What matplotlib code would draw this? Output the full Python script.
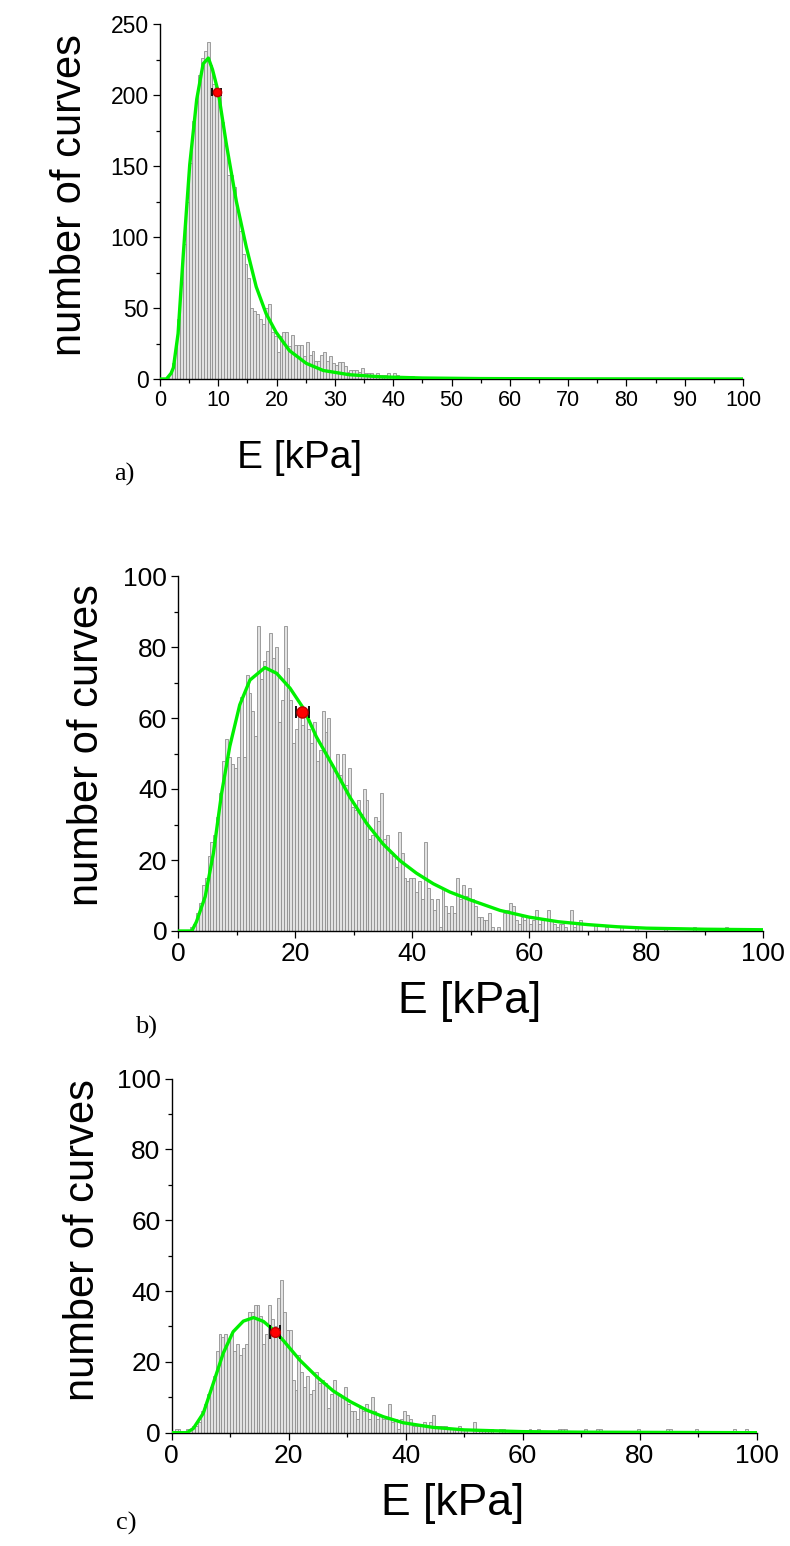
import matplotlib
matplotlib.use('Agg')
import matplotlib.pyplot as plt
import numpy as np
from matplotlib.ticker import MultipleLocator

plt.rcParams['font.family'] = ['Liberation Sans', 'DejaVu Sans']

W, H = 790, 1546

# histogram bins, 0.5 kPa wide, 0..100 kPa
bin_width = 0.5
bin_left = np.arange(0, 100, bin_width)

# a) counts per bin, one row = 10 kPa
counts_a = [
    0, 0, 1, 4, 11, 25, 42, 68, 95, 125, 152, 182, 196, 214, 226, 231, 237, 221, 208, 204,
    199, 181, 165, 144, 144, 135, 118, 104, 88, 81, 71, 50, 48, 46, 42, 39, 50, 53, 33, 30,
    19, 30, 33, 33, 23, 31, 24, 24, 24, 16, 26, 17, 20, 13, 13, 17, 19, 13, 16, 11,
    10, 12, 12, 9, 5, 6, 6, 6, 5, 8, 4, 4, 4, 3, 4, 3, 3, 3, 4, 2,
    4, 3, 2, 2, 1, 1, 2, 0, 1, 1, 0, 1, 1, 0, 1, 0, 1, 0, 0, 1,
    0, 0, 1, 0, 0, 0, 1, 0, 0, 0, 0, 0, 0, 1, 1, 0, 0, 0, 0, 0,
    0, 0, 0, 0, 0, 0, 0, 0, 0, 0, 1, 0, 0, 0, 0, 0, 0, 0, 0, 0,
    0, 0, 0, 0, 1, 0, 0, 0, 0, 0, 0, 0, 0, 0, 0, 0, 0, 0, 0, 0,
    0, 0, 0, 0, 0, 0, 0, 0, 0, 0, 0, 0, 1, 0, 0, 0, 0, 0, 0, 0,
    0, 0, 0, 0, 0, 0, 0, 0, 0, 0, 1, 0, 0, 0, 0, 0, 0, 0, 0, 0,
]

# b)
counts_b = [
    0, 0, 0, 0, 1, 2, 5, 8, 13, 15, 21, 25, 27, 32, 39, 48, 54, 49, 47, 46,
    49, 66, 49, 72, 67, 62, 55, 86, 71, 76, 79, 84, 77, 80, 59, 65, 86, 74, 65, 53,
    57, 62, 58, 61, 57, 53, 59, 48, 51, 62, 56, 60, 47, 45, 50, 44, 50, 41, 46, 35,
    34, 37, 33, 40, 37, 26, 27, 32, 31, 39, 26, 27, 22, 21, 18, 28, 22, 15, 14, 15,
    15, 11, 14, 9, 25, 12, 9, 6, 9, 1, 12, 7, 5, 7, 5, 15, 9, 13, 10, 12,
    9, 7, 4, 4, 3, 3, 5, 1, 0, 1, 0, 5, 6, 8, 7, 3, 2, 4, 3, 4,
    2, 3, 6, 2, 3, 0, 6, 3, 2, 1, 2, 2, 1, 0, 6, 1, 2, 3, 0, 0,
    0, 0, 2, 0, 0, 0, 1, 0, 0, 0, 0, 1, 0, 0, 0, 0, 1, 0, 0, 0,
    0, 0, 0, 0, 0, 0, 1, 0, 0, 0, 0, 0, 0, 0, 0, 0, 1, 0, 0, 0,
    0, 0, 0, 0, 0, 0, 0, 1, 0, 0, 0, 0, 0, 0, 0, 0, 0, 0, 0, 0,
]

# c)
counts_c = [
    0, 1, 1, 0, 0, 1, 1, 2, 2, 3, 6, 8, 11, 13, 16, 23, 28, 27, 28, 26,
    28, 23, 25, 22, 24, 25, 34, 34, 36, 36, 33, 25, 28, 36, 32, 30, 38, 43, 34, 29,
    29, 15, 12, 22, 17, 13, 16, 11, 12, 17, 14, 15, 14, 7, 11, 15, 11, 11, 10, 13,
    8, 6, 6, 4, 7, 6, 8, 4, 10, 6, 4, 5, 4, 4, 8, 3, 4, 1, 4, 6,
    5, 4, 2, 2, 2, 2, 3, 2, 3, 5, 2, 2, 2, 2, 1, 1, 1, 1, 2, 1,
    1, 0, 0, 3, 0, 1, 1, 1, 1, 1, 0, 0, 1, 1, 0, 0, 0, 0, 0, 0,
    0, 0, 1, 0, 0, 1, 0, 0, 0, 0, 0, 0, 1, 1, 1, 0, 0, 0, 0, 0,
    0, 1, 0, 0, 0, 1, 1, 0, 0, 0, 0, 0, 0, 0, 0, 0, 0, 0, 0, 1,
    0, 0, 0, 0, 0, 0, 0, 0, 0, 1, 1, 0, 0, 0, 0, 0, 0, 0, 0, 1,
    0, 0, 0, 0, 0, 0, 0, 0, 0, 0, 0, 0, 1, 0, 0, 0, 1, 0, 0, 0,
]

# fitted distributions
fit_a_x = [0, 1.1, 1.9, 2.3, 3.1, 4.0, 5.1, 6.3, 7.4, 8.3, 9.0, 10.0, 11.4, 13.1, 14.8,
           16.5, 18.2, 19.9, 22.2, 25.1, 28.0, 32.5, 38, 45, 55, 70, 100]
fit_a_y = [0, 0, 4, 8, 32, 88, 151, 197, 222, 226, 218, 202, 165, 125, 93,
           65, 46, 33, 20, 11, 6, 3, 1.5, 0.7, 0.3, 0.1, 0]

fit_b_x = [0, 2.3, 3.1, 4.6, 6.0, 7.4, 8.8, 10.5, 12.25, 14.8, 16.8, 19.1, 21.4, 23.6,
           26.5, 29.3, 32.2, 35, 37.9, 40.7, 43.6, 46.4, 50, 55, 60, 65, 70, 75, 80, 90, 100]
fit_b_y = [0, 0, 2.6, 9.7, 21.9, 38.8, 52, 63.7, 70.7, 74.2, 72.6, 68.4, 62.7, 54.7,
           46.3, 37.8, 30.3, 24.5, 19.8, 16.3, 13.3, 11, 8.7, 5.8, 3.9, 2.6, 1.8, 1.2, 0.8, 0.5, 0.35]

fit_c_x = [0, 2.6, 3.7, 5.4, 7.1, 8.8, 10.5, 12.25, 14.0, 15.7, 17.4, 19.1, 21.9, 24.8,
           27.6, 30.5, 33.3, 36.2, 39.6, 44.7, 50, 60, 70, 100]
fit_c_y = [0, 0, 1.2, 5.5, 13.9, 22.4, 28.5, 31.5, 32.5, 31.4, 29, 26, 20.5, 15.8,
           11.8, 8.8, 6.4, 4.5, 2.8, 1.5, 0.8, 0.3, 0.15, 0]

# mean E with error (red point)
mean_x = [9.7, 21.2, 17.7]
mean_y = [202, 61.8, 28.5]
mean_xerr = [0.8, 1.15, 0.85]

panel_labels = ['a)', 'b)', 'c)']


def px(x, y):
    return x / W, 1 - y / H


def draw_panel(box, counts, fit_x, fit_y, i, ymax, xmaj, xmin, ymaj, ymin,
               ytick_size, xtick_size, xl_size,
               ylab_xy, xlab_xy, letter_xy, capsize, msize):
    left, top, right, bottom = box
    x0, y0 = px(left, bottom)
    x1, y1 = px(right, top)
    ax = fig.add_axes([x0, y0, x1 - x0, y1 - y0])

    ax.bar(bin_left, counts, width=bin_width, align='edge',
           color='#e2e2e2', edgecolor='#8e8e8e', linewidth=0.6, zorder=1)
    ax.plot(fit_x, fit_y, color='#00f000', lw=2.4, zorder=3)
    ax.errorbar(mean_x[i], mean_y[i], xerr=mean_xerr[i], fmt='o', color='black',
                ecolor='black', elinewidth=1.8, capsize=capsize, capthick=1.3,
                markerfacecolor='red', markeredgecolor='#c00000', markersize=msize, zorder=4)

    ax.set_xlim(0, 100)
    ax.set_ylim(0, ymax)
    ax.spines['right'].set_visible(False)
    ax.spines['top'].set_visible(False)
    for s in ('left', 'bottom'):
        ax.spines[s].set_linewidth(1.0)
    ax.xaxis.set_major_locator(MultipleLocator(xmaj))
    ax.xaxis.set_minor_locator(MultipleLocator(xmin))
    ax.yaxis.set_major_locator(MultipleLocator(ymaj))
    ax.yaxis.set_minor_locator(MultipleLocator(ymin))
    ax.tick_params(which='major', length=5, width=0.9, pad=3)
    ax.tick_params(which='minor', length=3, width=0.9)
    ax.tick_params(axis='y', labelsize=ytick_size)
    ax.tick_params(axis='x', labelsize=xtick_size)

    ax.set_ylabel('number of curves', fontsize=30, va='center', ha='center')
    ax.yaxis.set_label_coords(*px(*ylab_xy), transform=fig.transFigure)
    ax.set_xlabel('E [kPa]', fontsize=xl_size, va='center', ha='center')
    ax.xaxis.set_label_coords(*px(*xlab_xy), transform=fig.transFigure)

    fig.text(*px(*letter_xy), panel_labels[i], fontsize=19, family='Liberation Serif',
             ha='center', va='center')
    return ax


fig = plt.figure(figsize=(W / 100, H / 100), dpi=100)

draw_panel((160, 24, 743, 379), counts_a, fit_a_x, fit_a_y, 0, 250, 10, 5, 50, 25,
           16.5, 15.5, 28,
           (70, 195), (300, 458), (124, 474), 3, 6)
draw_panel((178.3, 576, 763.3, 931), counts_b, fit_b_x, fit_b_y, 1, 100, 20, 10, 20, 10,
           19, 19, 32,
           (87, 745), (470, 1002), (146, 1027), 4, 8)
draw_panel((171.7, 1078.5, 756.7, 1432.7), counts_c, fit_c_x, fit_c_y, 2, 100, 20, 10, 20, 10,
           19, 19, 32,
           (83, 1240), (453, 1503), (126, 1523), 5, 7)

fig.savefig('out.png', dpi=100)
